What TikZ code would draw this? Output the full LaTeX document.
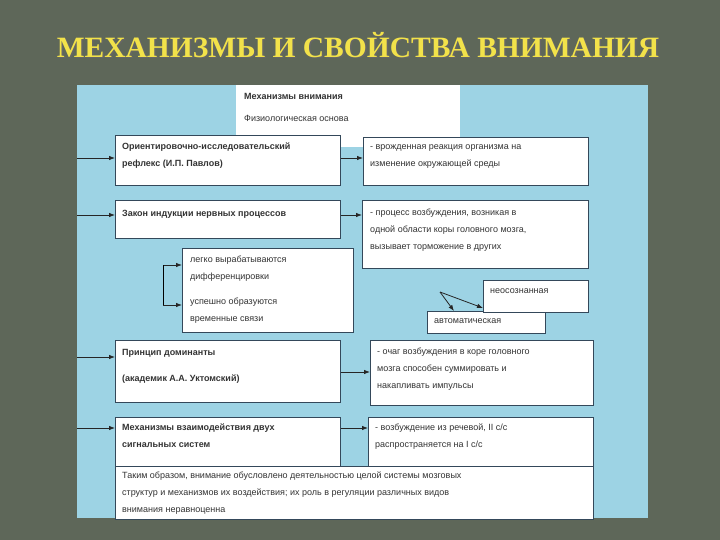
\documentclass[tikz,border=0pt]{standalone}
\usepackage{fontspec}
\setmainfont{Liberation Sans}
\newfontfamily\titlefont{Liberation Serif}
\usetikzlibrary{arrows.meta,shadows}
\definecolor{bgc}{HTML}{5E6759}
\definecolor{panel}{HTML}{9DD3E4}
\definecolor{edge}{HTML}{34485A}
\definecolor{ttl}{HTML}{F2E24A}
\begin{document}
\begin{tikzpicture}[x=1pt,y=-1pt,
  box/.style={draw=edge,fill=white,line width=0.9pt,anchor=north west,inner sep=0pt},
  txt/.style={anchor=north west,align=left,font=\fontsize{9}{17}\selectfont,text=black!80,inner sep=0pt,yshift=-4pt},
  btxt/.style={txt,font=\bfseries\fontsize{9}{17}\selectfont},
  arr/.style={-{Latex[length=6pt,width=4.5pt]},line width=0.8pt,draw=black!85}]
\fill[bgc] (0,0) rectangle (720,540);
\useasboundingbox (0,0) rectangle (720,540);
\node[font=\titlefont\bfseries\fontsize{29.5}{31}\selectfont,text=black!60] at (359.5,46.5) {МЕХАНИЗМЫ И СВОЙСТВА ВНИМАНИЯ};
\node[font=\titlefont\bfseries\fontsize{29.5}{31}\selectfont,text=ttl] (title) at (358,45) {МЕХАНИЗМЫ И СВОЙСТВА ВНИМАНИЯ};
\fill[panel] (77,85) rectangle (648,518);
% top
\node[box,draw=none,minimum width=224,minimum height=62] (top) at (236,85) {};
\node[btxt] at (244,89) {Механизмы внимания};
\node[txt] at (244,111) {Физиологическая основа};
% row1
\node[box,minimum width=225,minimum height=50] (b1) at (115,135) {};
\node[btxt] at (122,139) {Ориентировочно-исследовательский\\рефлекс (И.П. Павлов)};
\node[box,minimum width=225,minimum height=48] (r1) at (363,137) {};
\node[txt] at (370,140) {- врожденная реакция организма на\\изменение окружающей среды};
% row2
\node[box,minimum width=225,minimum height=38] (b2) at (115,200) {};
\node[btxt] at (122,206) {Закон индукции нервных процессов};
\node[box,minimum width=226,minimum height=68] (r2) at (362,200) {};
\node[txt] at (370,205) {- процесс возбуждения, возникая в\\одной области коры головного мозга,\\вызывает торможение в других};
% list
\node[box,minimum width=171,minimum height=84] (l) at (182,248) {};
\node[txt] at (190,252) {легко вырабатываются\\дифференцировки};
\node[txt] at (190,294) {успешно образуются\\временные связи};
\coordinate (l1) at (182,265);
\coordinate (l2) at (182,305);
% auto
\node[box,minimum width=118,minimum height=22] (a) at (427,311) {};
\node[txt] at (434,314) {автоматическая};
\node[box,minimum width=105,minimum height=32] (n) at (483,280) {};
\node[txt] at (490,284) {неосознанная};
% row3
\node[box,minimum width=225,minimum height=62] (b3) at (115,340) {};
\node[btxt,font=\bfseries\fontsize{9}{26}\selectfont] at (122,345) {Принцип доминанты\\(академик А.А. Уктомский)};
\node[box,minimum width=223,minimum height=65] (r3) at (370,340) {};
\node[txt] at (377,344) {- очаг возбуждения в коре головного\\мозга способен суммировать и\\накапливать импульсы};
% row4
\node[box,minimum width=225,minimum height=53] (b4) at (115,417) {};
\node[btxt] at (122,420) {Механизмы взаимодействия двух\\сигнальных систем};
\node[box,minimum width=225,minimum height=50] (r4) at (368,417) {};
\node[txt] at (375,420) {- возбуждение из речевой, II с/с\\распространяется на I с/с};
\node[box,minimum width=478,minimum height=53] (bot) at (115,466) {};
\node[txt] at (122,468) {Таким образом, внимание обусловлено деятельностью целой системы мозговых\\структур и механизмов их воздействия; их роль в регуляции различных видов\\внимания неравноценна};
% arrows
\foreach \b/\yy in {b1/158,b2/215,b3/357,b4/428}{
  \coordinate (s\b) at (77,\yy);
  \draw[arr] (s\b) -- (s\b -| \b.west);}
\draw[arr] (b1.east |- 0,158) -- (r1.west |- 0,158);
\draw[arr] (b2.east |- 0,215) -- (r2.west |- 0,215);
\draw[arr] (b3.east |- 0,372) -- (r3.west |- 0,372);
\draw[arr] (b4.east |- 0,428) -- (r4.west |- 0,428);
\coordinate (br) at (163,265);
\draw[arr] (l1 -| br) -- (l1);
\draw[line width=0.8pt] (l1 -| br) -- (l2 -| br);
\draw[arr] (l2 -| br) -- (l2);
\coordinate (sp) at (440,292);
\coordinate (ax) at (454,0);
\draw[arr] (sp) -- (n.west |- 0,308);
\draw[arr] (sp) -- (ax |- a.north);
\end{tikzpicture}
\end{document}
